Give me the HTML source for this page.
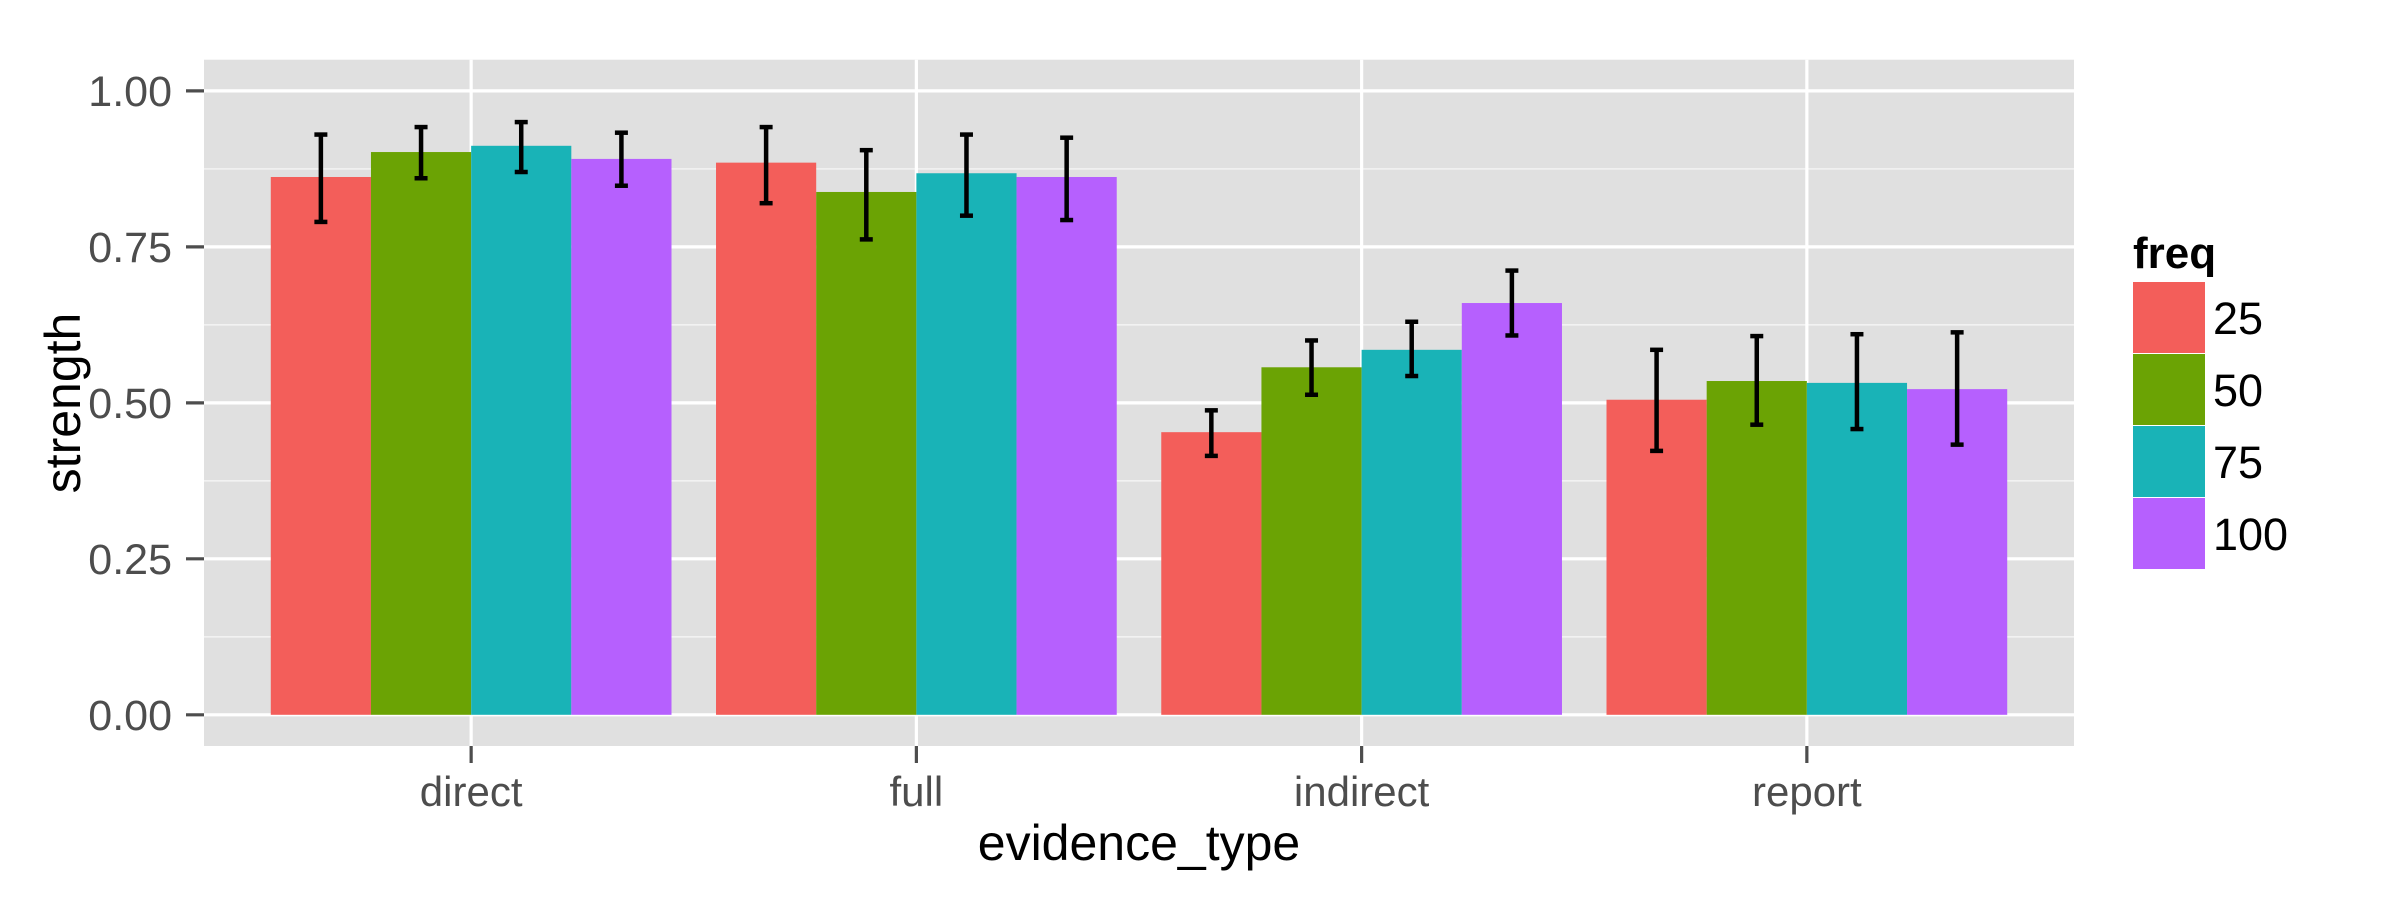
<!DOCTYPE html>
<html><head><meta charset="utf-8"><style>
html,body{margin:0;padding:0;background:#fff}
svg{display:block}
text{font-family:"Liberation Sans",Arial,sans-serif}
</style></head><body>
<svg id="chart" width="2400" height="900" xmlns="http://www.w3.org/2000/svg"></svg>
<script>
const categories = ["direct","full","indirect","report"];
const seriesNames = ["25","50","75","100"];
const colors = ["#F35E5A","#6BA304","#19B3B7","#B660FE"];
const vals25 = [0.862,0.885,0.453,0.505];
const vals50 = [0.902,0.838,0.557,0.535];
const vals75 = [0.912,0.868,0.585,0.532];
const vals100 = [0.891,0.862,0.660,0.522];
const lo25 = [0.790,0.820,0.415,0.423];
const hi25 = [0.930,0.942,0.488,0.585];
const lo50 = [0.860,0.762,0.513,0.465];
const hi50 = [0.942,0.905,0.600,0.607];
const lo75 = [0.870,0.800,0.543,0.458];
const hi75 = [0.950,0.930,0.630,0.610];
const lo100 = [0.848,0.793,0.608,0.433];
const hi100 = [0.933,0.925,0.712,0.613];
const yTicks = [0,0.25,0.5,0.75,1.0];
const yTickLabels = ["0.00","0.25","0.50","0.75","1.00"];
const yMinor = [0.125,0.375,0.625,0.875];

const vals=[vals25,vals50,vals75,vals100], los=[lo25,lo50,lo75,lo100], his=[hi25,hi50,hi75,hi100];
const NS="http://www.w3.org/2000/svg";
const svg=document.getElementById('chart');
const P={l:204,r:2074,t:59.7,b:746};
const yMin=-0.05,yMax=1.05;
const y=v=>P.b-(v-yMin)/(yMax-yMin)*(P.b-P.t);
const step=(P.r-P.l)/(categories.length+0.2);
const xc=i=>P.l+step*(i+0.6);
const bw=step*0.9/seriesNames.length;
function el(tag,attrs,parent){const e=document.createElementNS(NS,tag);for(const k in attrs)e.setAttribute(k,attrs[k]);(parent||svg).appendChild(e);return e;}

const panel=el('rect',{x:P.l,y:P.t,width:P.r-P.l,height:P.b-P.t,fill:'#E0E0E0'});


yMinor.forEach(v=>{const g=el('line',{x1:P.l,x2:P.r,y1:y(v),y2:y(v),stroke:'#F2F2F2','stroke-width':1.6});

});
yTicks.forEach((v,i)=>{const g=el('line',{x1:P.l,x2:P.r,y1:y(v),y2:y(v),stroke:'#fff','stroke-width':3.2});


const t=el('line',{x1:186,x2:P.l,y1:y(v),y2:y(v),stroke:'#4D4D4D','stroke-width':3.2});


const l=el('text',{x:172,y:y(v)+15,'text-anchor':'end','font-size':43,fill:'#4D4D4D'});l.textContent=yTickLabels[i];

});
categories.forEach((c,i)=>{const g=el('line',{x1:xc(i),x2:xc(i),y1:P.t,y2:P.b,stroke:'#fff','stroke-width':3.2});


const t=el('line',{x1:xc(i),x2:xc(i),y1:P.b,y2:763,stroke:'#4D4D4D','stroke-width':3.2});


const l=el('text',{x:xc(i),y:806,'text-anchor':'middle','font-size':42,fill:'#4D4D4D'});l.textContent=c;

});
categories.forEach((c,i)=>{
  seriesNames.forEach((s,j)=>{
    const x0=xc(i)-bw*2+bw*j, v=vals[j][i];
    const r=el('rect',{x:x0,y:y(v),width:bw,height:y(0)-y(v),fill:colors[j]});
    
    
  });
});
categories.forEach((c,i)=>{
  seriesNames.forEach((s,j)=>{
    const cx=xc(i)-bw*2+bw*(j+0.5);
    const g=el('g',{stroke:'#000','stroke-width':4.5});
    
    
    el('line',{x1:cx,x2:cx,y1:y(los[j][i]),y2:y(his[j][i])},g);
    el('line',{x1:cx-6.5,x2:cx+6.5,y1:y(los[j][i]),y2:y(los[j][i])},g);
    el('line',{x1:cx-6.5,x2:cx+6.5,y1:y(his[j][i]),y2:y(his[j][i])},g);
  });
});
const xt=el('text',{x:(P.l+P.r)/2,y:860,'text-anchor':'middle','font-size':50,fill:'#000'});xt.textContent='evidence_type';


const yt=el('text',{x:0,y:0,'text-anchor':'middle','font-size':50,fill:'#000',transform:'translate(80,403) rotate(-90)'});yt.textContent='strength';


const lt=el('text',{x:2133,y:268,'font-size':44,'font-weight':'bold',fill:'#000'});lt.textContent='freq';


seriesNames.forEach((s,j)=>{
  const y0=282+j*72;
  const g=el('g',{});
  
  
  el('rect',{x:2133,y:y0,width:72,height:71,fill:colors[j]},g);
  const t=el('text',{x:2213,y:y0+52,'font-size':45,fill:'#000'},g);t.textContent=s;
});
</script>
</body></html>
